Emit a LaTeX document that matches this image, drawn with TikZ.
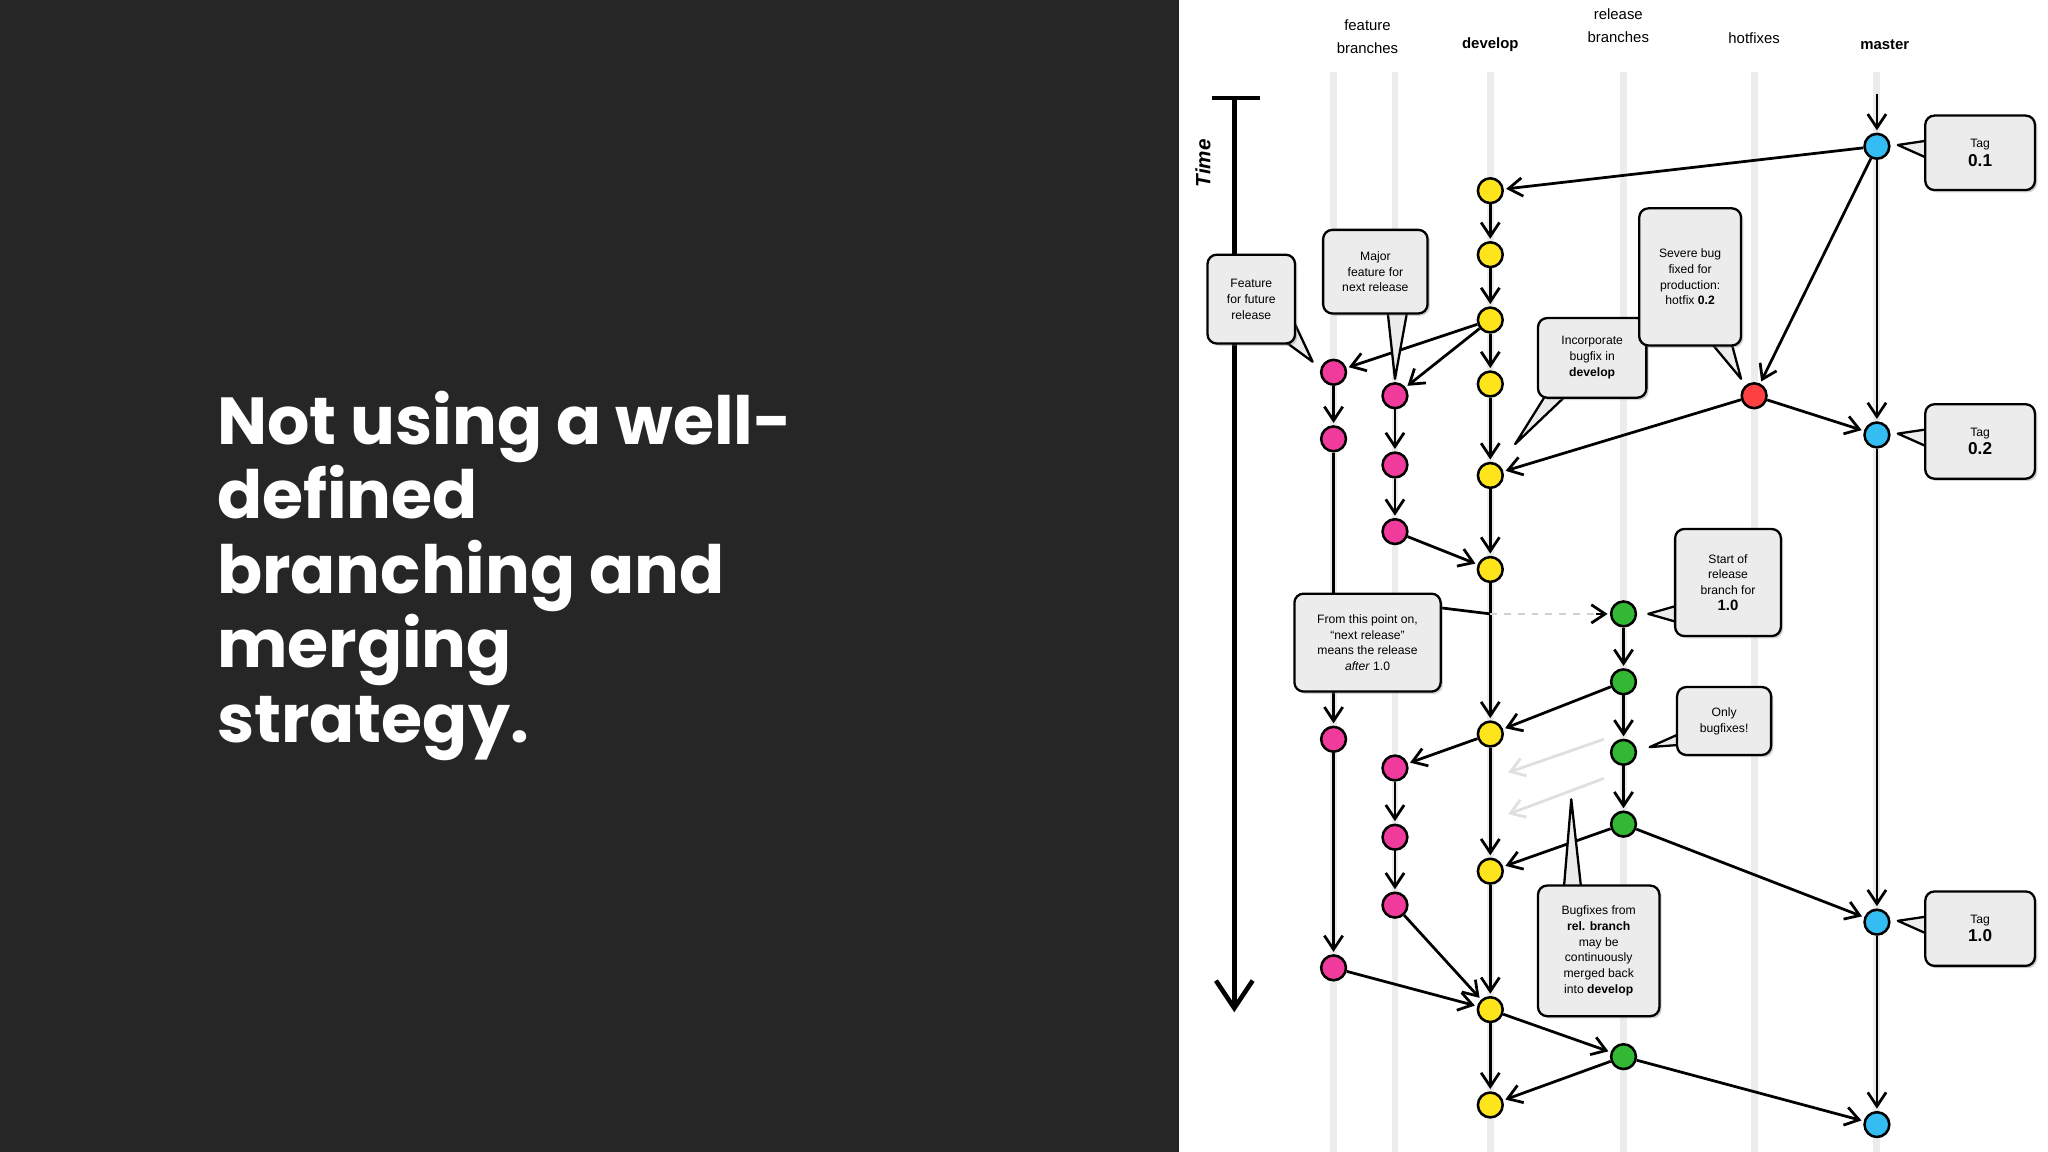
\documentclass[tikz,border=0pt]{standalone}
\usepackage{fontspec}
\setmainfont{Liberation Sans}
\newfontfamily\titlefont{Poppins}
\usetikzlibrary{arrows.meta,shadows}
\begin{document}
\begin{tikzpicture}[x=0.02cm,y=-0.02cm,
  cnode/.style={circle,draw=black,line width=1.1pt,minimum size=0.38cm,inner sep=0pt},
  dv/.style={cnode,fill=yellow!85!orange!90!white},
  ft/.style={cnode,fill=magenta!70!pink},
  rl/.style={cnode,fill=green!65!black!80!white},
  hf/.style={cnode,fill=red!75!white},
  ms/.style={cnode,fill=cyan!80!white},
  ar/.style={line width=1.2pt,-{Straight Barb[length=6pt,width=8pt]},shorten >=1pt},
  lane/.style={gray!15,line width=3pt},
  hd/.style={font=\fontsize{6.5}{8}\selectfont,align=center},
  co/.style={draw=black,line width=1pt,rounded corners=4pt,fill=gray!15,drop shadow={opacity=0.35,shadow xshift=1pt,shadow yshift=-1pt},align=center,font=\fontsize{5.3}{6.9}\selectfont,inner sep=2pt},
  ptr/.style={draw=black,line width=1pt,fill=gray!15,line join=round}]
\useasboundingbox (0,0) rectangle (1568,882);
\fill[white] (0,0) rectangle (1568,882);
\fill[black!85!white] (0,0) rectangle (903,882);
\node[anchor=north west,text=white,align=left,font=\titlefont\bfseries\fontsize{29}{32.5}\selectfont] (title) at (160,293)
 {Not using a well-\\defined\\branching and\\merging\\strategy.};
% lanes
\foreach \x in {1021,1068,1141,1243,1343,1437} \draw[lane] (\x,55) -- (\x,882);
% headers
\node[hd] (h1) at (1047,28) {feature\\[2pt]branches};
\node[hd,font=\fontsize{6.5}{8}\selectfont\bfseries] (h2) at (1141,34) {develop};
\node[hd] (h3) at (1239,20) {release\\[2pt]branches};
\node[hd] (h4) at (1343,29) {hotfixes};
\node[hd,font=\fontsize{6.5}{8}\selectfont\bfseries] (h5) at (1443,34) {master};
% time
\coordinate (t0) at (945,75); \coordinate (t1) at (945,775);
\draw[line width=2pt] (928,75) -- (965,75);
\draw[line width=2pt,-{Straight Barb[length=12pt,width=16pt]}] (t0) -- (t1);
\node[rotate=90,font=\fontsize{9}{10}\selectfont\bfseries\itshape] (time) at (921,125) {Time};
% nodes
\node[ms] (m1) at (1437,112) {}; \node[ms] (m2) at (1437,333) {};
\node[ms] (m3) at (1437,706) {}; \node[ms] (m4) at (1437,861) {};
\node[hf] (h) at (1343,303) {};
\foreach \n/\y in {d1/146,d2/195,d3/245,d4/294,d5/364,d6/436,d7/562,d8/667,d9/773,d10/846} \node[dv] (\n) at (1141,\y) {};
\foreach \n/\y in {a1/285,a2/336,a3/566,a4/741} \node[ft] (\n) at (1021,\y) {};
\foreach \n/\y in {b1/303,b2/356,b3/407,b4/588,b5/641,b6/693} \node[ft] (\n) at (1068,\y) {};
\foreach \n/\y in {r1/470,r2/522,r3/576,r4/631,r5/809} \node[rl] (\n) at (1243,\y) {};
% edges
\coordinate (mtop) at (1437,72);
\draw[ar] (mtop) -- (m1);
\draw[ar] (m1) -- (d1); \draw[ar] (m1) -- (h); \draw[ar] (m1) -- (m2);
\draw[ar] (m2) -- (m3); \draw[ar] (m3) -- (m4);
\draw[ar] (d1)--(d2); \draw[ar] (d2)--(d3); \draw[ar] (d3)--(d4); \draw[ar] (d4)--(d5);
\draw[ar] (d5)--(d6); \draw[ar] (d6)--(d7); \draw[ar] (d7)--(d8); \draw[ar] (d8)--(d9); \draw[ar] (d9)--(d10);
\draw[ar] (d3)--(a1); \draw[ar] (d3)--(b1);
\draw[ar] (a1)--(a2); \draw[ar] (a2)--(a3); \draw[ar] (a3)--(a4);
\draw[ar] (b1)--(b2); \draw[ar] (b2)--(b3); \draw[ar] (b3)--(d6);
\draw[ar] (h)--(d5); \draw[ar] (h)--(m2);
\coordinate (rs) at (1141,470);
\draw[line width=1.2pt] (1100,465) -- (rs);
\draw[gray!35,dashed,line width=1.2pt] (rs) -- (1222,470);
\draw[ar] (1222,470) -- (r1);
\draw[ar] (r1)--(r2); \draw[ar] (r2)--(r3); \draw[ar] (r3)--(r4);
\draw[ar] (r2)--(d7); \draw[ar] (r4)--(d8); \draw[ar] (r4)--(m3);
\coordinate (g1) at (1228,566); \coordinate (g2) at (1153,592);
\coordinate (g3) at (1228,596); \coordinate (g4) at (1153,624);
\draw[ar,gray!25] (g1)--(g2); \draw[ar,gray!25] (g3)--(g4);
\draw[ar] (d7)--(b4); \draw[ar] (b4)--(b5); \draw[ar] (b5)--(b6);
\draw[ar] (b6)--(d9); \draw[ar] (a4)--(d9);
\draw[ar] (d9)--(r5); \draw[ar] (r5)--(d10); \draw[ar] (r5)--(m4);
% callouts
\draw[ptr] (975,255) -- (1005,277) -- (990,245);
\node[co,minimum width=1.34cm,minimum height=1.36cm] (c1) at (958,229) {Feature\\for future\\release};
\draw[ptr] (1062,235) -- (1068,290) -- (1078,235);
\node[co,minimum width=1.6cm,minimum height=1.28cm] (c2) at (1053,208) {Major\\feature for\\next release};
\draw[ptr] (1185,300) -- (1160,340) -- (1202,300);
\node[co,minimum width=1.66cm,minimum height=1.22cm] (c3) at (1219,274) {Incorporate\\bugfix in\\\textbf{develop}};
\draw[ptr] (1308,260) -- (1333,290) -- (1325,260);
\node[co,minimum width=1.56cm,minimum height=2.1cm] (c4) at (1294,212) {Severe bug\\fixed for\\production:\\hotfix \textbf{0.2}};
\foreach \n/\y/\t in {t1/117/0.1,t2/338/0.2,t3/711/1.0}{
  \draw[ptr] (1480,\y-10) -- (1453,\y-6) -- (1480,\y+6);
  \node[co,minimum width=1.68cm,minimum height=1.14cm,font=\fontsize{5.3}{8}\selectfont] (\n) at (1516,\y) {Tag\\{\fontsize{7.5}{8}\selectfont\bfseries \t}};}
\draw[ptr] (1290,462) -- (1262,470) -- (1290,478);
\node[co,minimum width=1.62cm,minimum height=1.64cm] (c5) at (1323,446) {Start of\\release\\branch for\\{\fontsize{6.5}{8}\selectfont\bfseries 1.0}};
\node[co,minimum width=2.24cm,minimum height=1.5cm] (c6) at (1047,492) {From this point on,\\``next release''\\means the release\\\textit{after} 1.0};
\draw[ptr] (1290,560) -- (1263,572) -- (1290,570);
\node[co,minimum width=1.44cm,minimum height=1.04cm] (c7) at (1320,552) {Only\\bugfixes!};
\draw[ptr] (1197,684) -- (1203,612) -- (1211,684);
\node[co,minimum width=1.86cm,minimum height=2cm] (c8) at (1224,728) {Bugfixes from\\\textbf{rel. branch}\\may be\\continuously\\merged back\\into \textbf{develop}};
\end{tikzpicture}
\end{document}
